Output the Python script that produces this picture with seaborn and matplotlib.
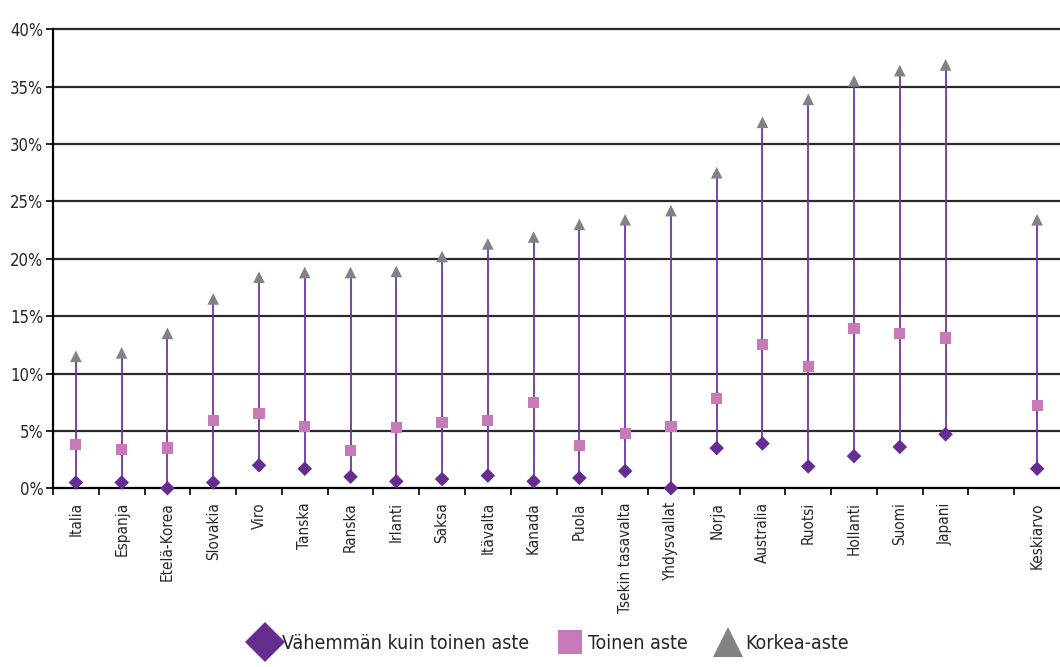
import numpy as np
import pandas as pd
import matplotlib
matplotlib.use("Agg")
import matplotlib.pyplot as plt
from matplotlib.lines import Line2D
import seaborn as sns

countries = ["Italia", "Espanja", "Etelä-Korea", "Slovakia", "Viro", "Tanska", "Ranska",
             "Irlanti", "Saksa", "Itävalta", "Kanada", "Puola", "Tsekin tasavalta",
             "Yhdysvallat", "Norja", "Australia", "Ruotsi", "Hollanti", "Suomi", "Japani",
             "Keskiarvo"]
low = [0.5, 0.5, 0.0, 0.5, 2.0, 1.7, 1.0, 0.6, 0.8, 1.1, 0.6, 0.9, 1.5, 0.0, 3.5, 3.9,
       1.9, 2.8, 3.6, 4.7, 1.7]
mid = [3.8, 3.4, 3.5, 5.9, 6.5, 5.4, 3.3, 5.3, 5.7, 5.9, 7.5, 3.7, 4.8, 5.4, 7.8, 12.5,
       10.6, 13.9, 13.5, 13.1, 7.2]
high = [11.5, 11.8, 13.5, 16.5, 18.4, 18.8, 18.8, 18.9, 20.2, 21.3, 21.9, 23.0, 23.4,
        24.2, 27.5, 31.9, 33.9, 35.5, 36.4, 36.9, 23.4]
series_names = ["Vähemmän kuin toinen aste", "Toinen aste", "Korkea-aste"]
yticks = [0, 5, 10, 15, 20, 25, 30, 35, 40]

sns.set_theme(style="white")
plt.rcParams['font.family'] = ['DejaVu Sans']
plt.rcParams['font.stretch'] = 'condensed'

# positions: gap slot between Japani and Keskiarvo
xpos = list(range(len(countries) - 1)) + [len(countries)]

df = pd.DataFrame({
    "x": xpos * 3,
    "y": low + mid + high,
    "series": [series_names[0]] * len(low) + [series_names[1]] * len(mid) + [series_names[2]] * len(high),
})

colors = {series_names[0]: "#652d8f", series_names[1]: "#c879b8", series_names[2]: "#808285"}
markers = {series_names[0]: "D", series_names[1]: "s", series_names[2]: "^"}
sizes = {series_names[0]: 55, series_names[1]: 65, series_names[2]: 70}

fig = plt.figure(figsize=(10.6, 6.67), dpi=100)
ax = fig.add_axes([0.05, 0.268, 0.95, 0.688])

for yv in yticks[1:]:
    ax.axhline(yv, color="#2b2b2b", lw=1.6, zorder=0, clip_on=False)

ax.vlines(xpos, low, high, color="#6f35a0", lw=1.3, zorder=1)

for s in series_names:
    sub = df[df["series"] == s]
    sns.scatterplot(data=sub, x="x", y="y", marker=markers[s], color=colors[s],
                    s=sizes[s], edgecolor="none", ax=ax, zorder=3, legend=False,
                    clip_on=False)

ax.set_xlim(-0.5, len(countries) + 0.5)
ax.set_ylim(0, 40)
ax.set_yticks(yticks)
ax.set_yticklabels([f"{v}%" for v in yticks], fontsize=12)
ax.set_xticks(xpos)
ax.set_xticklabels(countries, rotation=90, fontsize=11)
ax.set_xticks(np.arange(-0.5, len(countries) + 0.5, 1.0), minor=True)
ax.tick_params(axis="x", which="major", length=0, pad=10)
ax.tick_params(axis="x", which="minor", length=5, width=1.2, color="black", direction="out", bottom=True)
ax.tick_params(axis="y", length=5, width=1.2, color="black", direction="out", left=True, pad=2)
ax.set_xlabel("")
ax.set_ylabel("")

for side in ["top", "right"]:
    ax.spines[side].set_visible(False)
for side in ["left", "bottom"]:
    ax.spines[side].set_color("black")
    ax.spines[side].set_linewidth(1.6)

handles = [Line2D([], [], linestyle="none", marker=markers[s], color=colors[s],
                  markersize=ms, markeredgewidth=0)
           for s, ms in zip(series_names, [20, 17, 21])]
fig.legend(handles, series_names, loc="lower center", bbox_to_anchor=(0.52, -0.005),
           ncol=3, frameon=False, fontsize=14, handletextpad=0.3, columnspacing=1.5,
           handlelength=1.2)

fig.savefig("out.png", dpi=100)
